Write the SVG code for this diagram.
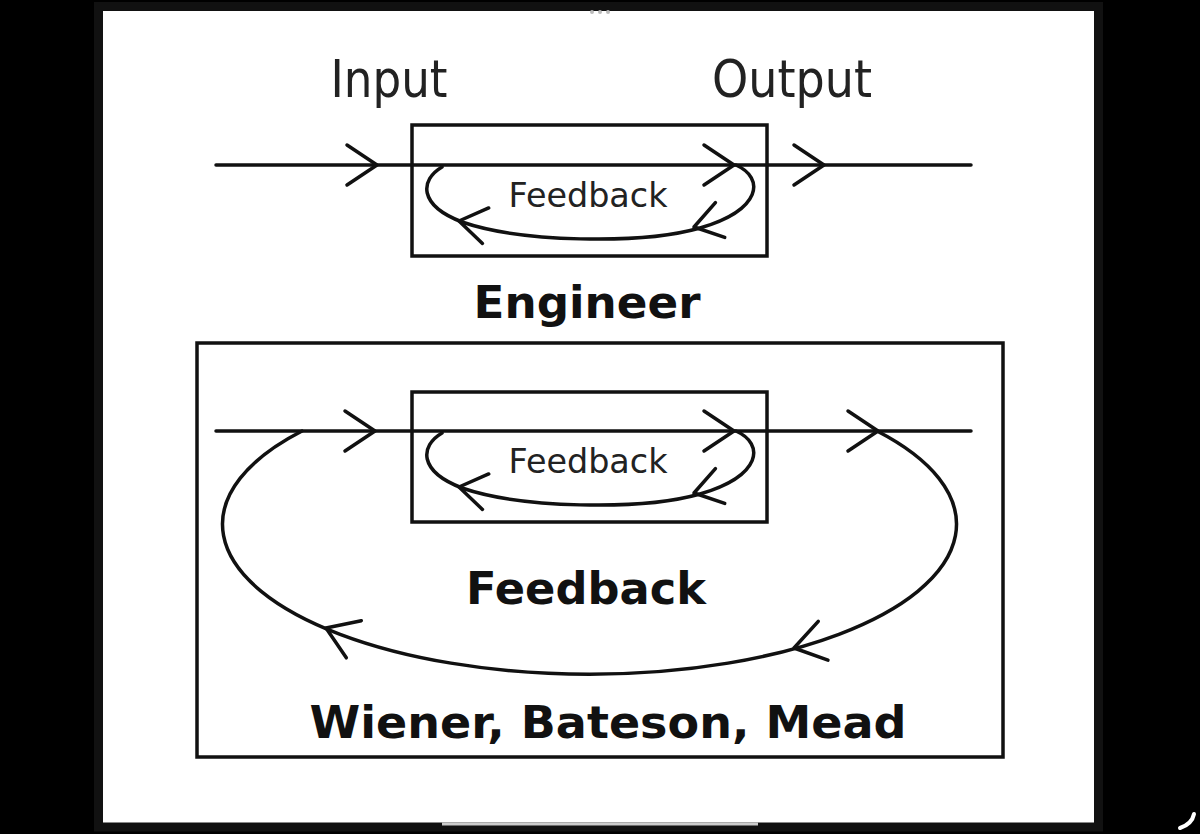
<svg xmlns="http://www.w3.org/2000/svg" width="1200" height="834" viewBox="0 0 1200 834">
<style>
.ln{fill:none;stroke:#111;stroke-width:3.5;stroke-linecap:round;stroke-linejoin:round}
.box{fill:none;stroke:#111;stroke-width:3.5}
.lbl{font-family:"DejaVu Sans",Verdana,sans-serif;fill:#222}
.bold{font-family:"DejaVu Sans",Verdana,sans-serif;font-weight:bold;fill:#111}
</style>
<defs>
<path id="chev" d="M -30 -20 L 0 0 L -30 20" class="ln"/>
<path id="chevs" d="M -27 -18 L 0 0 L -27 18" class="ln"/>
</defs>
<rect x="0" y="0" width="1200" height="834" fill="#000"/>
<rect x="98.5" y="6.5" width="1000" height="820.5" fill="#fff" stroke="#111" stroke-width="9"/>
<g id="dots" fill="#bbb"><circle cx="592" cy="12" r="2"/><circle cx="600" cy="12" r="2"/><circle cx="608" cy="12" r="2"/></g>
<line x1="442" y1="824" x2="758" y2="824" stroke="#ccc" stroke-width="3"/>
<path d="M 1180 828 Q 1192 824 1194 814" fill="none" stroke="#fff" stroke-width="4" stroke-linecap="round"/>

<g id="labels-top">
<text class="lbl" x="389" y="97" font-size="52" text-anchor="middle" textLength="117" lengthAdjust="spacingAndGlyphs">Input</text>
<text class="lbl" x="792" y="97" font-size="52" text-anchor="middle" textLength="160" lengthAdjust="spacingAndGlyphs">Output</text>
</g>

<g id="engineer-box">
<rect class="box" x="412" y="125" width="355" height="131"/>
<text class="lbl" x="588" y="207" font-size="34" fill="#333" text-anchor="middle" textLength="159" lengthAdjust="spacingAndGlyphs">Feedback</text>
</g>
<text id="engineer-label" class="bold" x="587" y="318" font-size="44" text-anchor="middle" textLength="227" lengthAdjust="spacingAndGlyphs">Engineer</text>

<g id="outer-box">
<rect class="box" x="197" y="343" width="806" height="414"/>
<text class="bold" x="586" y="604" font-size="44" text-anchor="middle" textLength="240" lengthAdjust="spacingAndGlyphs">Feedback</text>
<text class="bold" x="608" y="738" font-size="44" text-anchor="middle" textLength="597" lengthAdjust="spacingAndGlyphs">Wiener, Bateson, Mead</text>
</g>

<g id="inner-box">
<rect class="box" x="412" y="392" width="355" height="130"/>
<text class="lbl" x="588" y="473" font-size="34" fill="#333" text-anchor="middle" textLength="159" lengthAdjust="spacingAndGlyphs">Feedback</text>
</g>

<g id="connectors">
<!-- top system -->
<line class="ln" x1="216" y1="165" x2="971" y2="165"/>
<use href="#chev" transform="translate(377,165)"/>
<use href="#chev" transform="translate(734,165)"/>
<use href="#chev" transform="translate(824,165)"/>
<path class="ln" d="M 736 165 C 765 178, 762 210, 700 228 C 640 245, 520 242, 462 222 C 418 205, 420 180, 442 167"/>
<use href="#chevs" transform="translate(694,227) rotate(165)"/>
<use href="#chevs" transform="translate(459,221) rotate(190)"/>

<!-- bottom system -->
<line class="ln" x1="216" y1="431" x2="971" y2="431"/>
<use href="#chev" transform="translate(375,431)"/>
<use href="#chev" transform="translate(734,431)"/>
<use href="#chev" transform="translate(878,431)"/>
<path class="ln" d="M 736 431 C 765 444, 762 476, 700 494 C 640 511, 520 508, 462 488 C 418 471, 420 446, 442 433"/>
<use href="#chevs" transform="translate(694,493) rotate(165)"/>
<use href="#chevs" transform="translate(459,487) rotate(190)"/>
<path class="ln" d="M 877 431 A 367 150 0 1 1 302 431"/>
<use href="#chev" transform="translate(794,648) rotate(166)"/>
<use href="#chev" transform="translate(326,628) rotate(202)"/>
</g>
</svg>
